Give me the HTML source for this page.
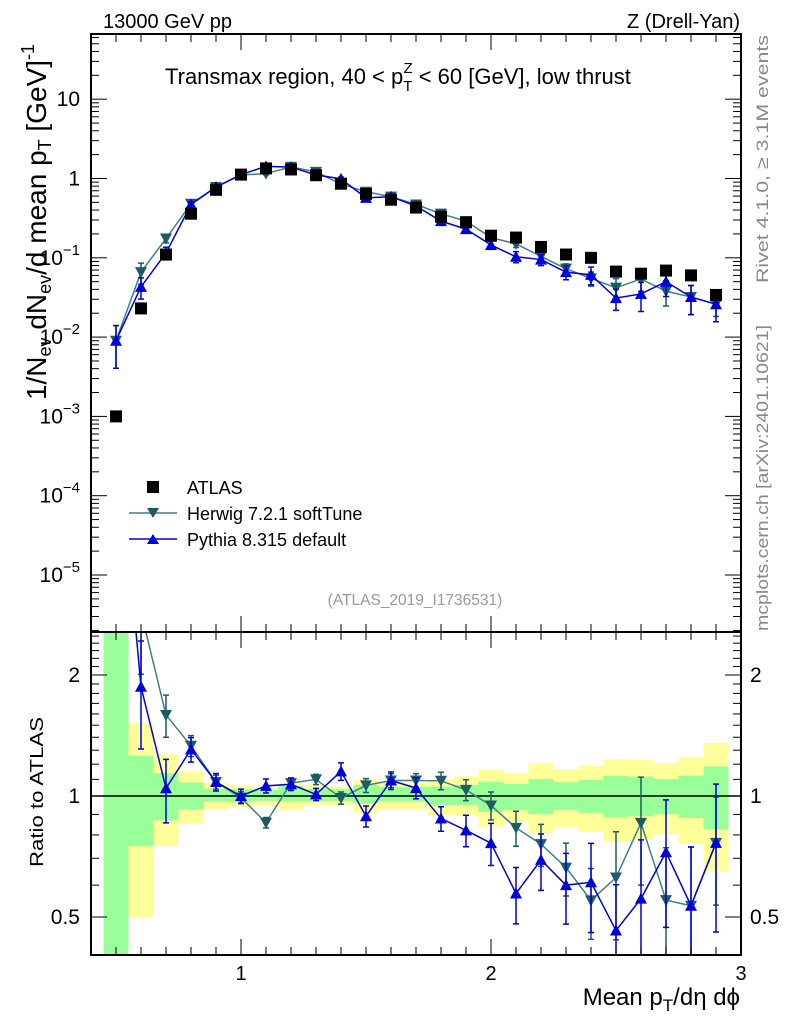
<!DOCTYPE html>
<html><head><meta charset="utf-8"><style>
body{margin:0;background:#fff}
svg{display:block;font-family:"Liberation Sans",Arial,sans-serif}
</style></head><body>
<svg id="c" width="786" height="1024" viewBox="0 0 786 1024" xmlns="http://www.w3.org/2000/svg">
<text x="103" y="28" font-size="20">13000 GeV pp</text>
<text x="740" y="28" font-size="20" text-anchor="end">Z (Drell-Yan)</text>
<text x="165" y="84" font-size="22">Transmax region, 40 &lt; p<tspan font-size="15" dy="7">T</tspan><tspan font-size="15" dx="-9" dy="-18">Z</tspan><tspan dy="11"> &lt; 60 [GeV], low thrust</tspan></text>
<text transform="translate(768,159) rotate(-90)" font-size="17" fill="#888" text-anchor="middle" textLength="248" lengthAdjust="spacingAndGlyphs">Rivet 4.1.0, ≥ 3.1M events</text>
<text transform="translate(768,478) rotate(-90)" font-size="17" fill="#888" text-anchor="middle" textLength="306" lengthAdjust="spacingAndGlyphs">mcplots.cern.ch [arXiv:2401.10621]</text>
<text transform="translate(46,222) rotate(-90)" font-size="28" text-anchor="middle">1/N<tspan font-size="18" dy="5">ev</tspan><tspan dy="-5"> dN</tspan><tspan font-size="18" dy="5">ev</tspan><tspan dy="-5">/d mean p</tspan><tspan font-size="18" dy="5">T</tspan><tspan dy="-5"> [GeV]</tspan><tspan font-size="18" dy="-12">-1</tspan></text>
<text transform="translate(43,792) rotate(-90)" font-size="18" text-anchor="middle" textLength="150" lengthAdjust="spacingAndGlyphs">Ratio to ATLAS</text>
<text x="740" y="1005" font-size="24" text-anchor="end">Mean p<tspan font-size="17" dy="6">T</tspan><tspan dy="-6">/dη dϕ</tspan></text>
<text x="415" y="605" font-size="15.5" fill="#999" text-anchor="middle">(ATLAS_2019_I1736531)</text>
<g id="bands"></g><g id="main"></g><g id="ratio"></g><g id="axes"></g>
<g>
<rect x="147" y="481" width="12" height="12" fill="#000"/>
<text x="187" y="494" font-size="18">ATLAS</text>
<line x1="129" y1="513" x2="177" y2="513" stroke="#3f7f85" stroke-width="1.5"/>
<path d="M147,508 L159,508 L153,518Z" fill="#1d5c63"/>
<text x="187" y="520" font-size="18">Herwig 7.2.1 softTune</text>
<line x1="129" y1="539" x2="177" y2="539" stroke="#0000dd" stroke-width="1.5"/>
<path d="M147,544 L159,544 L153,534Z" fill="#0000dd"/>
<text x="187" y="546" font-size="18">Pythia 8.315 default</text>
</g>
</svg>
<script>
const xs=[0.5,0.6,0.7,0.8,0.9,1.0,1.1,1.2,1.3,1.4,1.5,1.6,1.7,1.8,1.9,2.0,2.1,2.2,2.3,2.4,2.5,2.6,2.7,2.8,2.9];
const atlas=[0.001,0.023,0.11,0.36,0.72,1.12,1.34,1.3,1.1,0.86,0.64,0.54,0.43,0.33,0.28,0.19,0.18,0.137,0.11,0.1,0.067,0.063,0.069,0.06,0.034];
const herwig=[0.009,0.066,0.175,0.48,0.78,1.11,1.15,1.4,1.21,0.85,0.68,0.59,0.47,0.36,0.29,0.18,0.15,0.104,0.073,0.055,0.042,0.054,0.038,0.032,0.026];
const pythia=[0.009,0.043,0.115,0.47,0.78,1.12,1.42,1.39,1.11,0.99,0.57,0.59,0.45,0.29,0.23,0.145,0.103,0.095,0.066,0.061,0.031,0.035,0.05,0.032,0.026];
const herErr=[0.55,0.3,0.12,0.06,0.04,0.035,0.03,0.03,0.03,0.035,0.04,0.04,0.04,0.05,0.06,0.08,0.1,0.12,0.15,0.2,0.3,0.3,0.35,0.4,0.3];
const pyErr=[0.55,0.3,0.18,0.07,0.05,0.04,0.04,0.035,0.035,0.05,0.06,0.05,0.06,0.07,0.09,0.12,0.16,0.16,0.2,0.25,0.3,0.4,0.35,0.4,0.4];
const yelHi=[3,1.52,1.27,1.155,1.08,1.06,1.055,1.08,1.06,1.055,1.097,1.086,1.08,1.097,1.118,1.166,1.14,1.208,1.166,1.189,1.236,1.231,1.208,1.248,1.356];
const yelLo=[0.3,0.5,0.75,0.855,0.927,0.94,0.949,0.922,0.946,0.949,0.908,0.928,0.928,0.896,0.896,0.838,0.862,0.806,0.838,0.814,0.768,0.779,0.803,0.761,0.65];
const grnHi=[3,1.26,1.14,1.08,1.043,1.04,1.035,1.059,1.041,1.039,1.066,1.055,1.055,1.055,1.066,1.086,1.072,1.103,1.082,1.097,1.122,1.118,1.103,1.124,1.184];
const grnLo=[0.3,0.75,0.87,0.926,0.968,0.965,0.973,0.968,0.972,0.973,0.959,0.968,0.968,0.949,0.949,0.913,0.922,0.901,0.922,0.908,0.884,0.891,0.901,0.882,0.826];
const mainTickExp=["","","−1","−2","−3","−4","−5"];
const mainTickBase=["10","1","10","10","10","10","10"];
const mainTickVals=[1,0,-1,-2,-3,-4,-5];
const ratioTicks=["2","1","0.5"];
const ratioTickVals=[2,1,0.5];
const xTicks=["1","2","3"];
const xTickVals=[1,2,3];

const L=91,R=741,T=34,MB=632,RB=955;
const NS="http://www.w3.org/2000/svg";
const X=v=>L+(v-0.4)*(R-L)/2.6;
const Ym=v=>178.5-Math.log10(v)*79.3;
const Yr=v=>796-Math.log2(v)*121;
const clip=(y,a,b)=>Math.max(a,Math.min(b,y));
function mk(parent,tag,attrs){const e=document.createElementNS(NS,tag);for(const k in attrs)e.setAttribute(k,attrs[k]);document.getElementById(parent).appendChild(e);return e;}

xs.forEach((x,i)=>{
 const x0=X(x-0.05),x1=X(x+0.05);
 let a=clip(Yr(yelHi[i]),MB,RB),b=clip(Yr(yelLo[i]),MB,RB);
 let e=mk('bands','rect',{x:x0,y:a,width:x1-x0,height:b-a,fill:'#ffff99'});
 
 
 a=clip(Yr(grnHi[i]),MB,RB);b=clip(Yr(grnLo[i]),MB,RB);
 e=mk('bands','rect',{x:x0,y:a,width:x1-x0,height:b-a,fill:'#99ff99'});
 
 
});
let e=mk('bands','line',{x1:L,x2:R,y1:796,y2:796,stroke:'#000','stroke-width':1.5});



function series(g,vals,errs,col,lcol,down,name,yf){
 const pts=xs.map((x,i)=>[X(x),yf(vals[i])]);
 const gg=document.createElementNS(NS,'g');
 gg.setAttribute('clip-path',g==='main'?'url(#cm)':'url(#cr)');
 document.getElementById(g).appendChild(gg);
 const add=(tag,at)=>{const el=document.createElementNS(NS,tag);for(const k in at)el.setAttribute(k,at[k]);gg.appendChild(el);return el;};
 let p=add('polyline',{points:pts.map(p=>p.join(',')).join(' '),fill:'none',stroke:lcol,'stroke-width':1.5});
 
 
 xs.forEach((x,i)=>{
  const cx=X(x),v=vals[i],hi=yf(v*(1+errs[i])),lo=yf(Math.max(v*(1-errs[i]),1e-9));
  let eb=add('path',{d:`M${cx},${hi}V${lo}M${cx-3},${hi}h6M${cx-3},${lo}h6`,stroke:col,'stroke-width':1.5,fill:'none'});
  
  
  const cy=yf(v);
  let m=add('path',{d:down?`M${cx-6},${cy-5}L${cx+6},${cy-5}L${cx},${cy+6}Z`:`M${cx-6},${cy+5}L${cx+6},${cy+5}L${cx},${cy-6}Z`,fill:col});
  
  
 });
}
const defs=document.createElementNS(NS,'defs');
defs.innerHTML=`<clipPath id="cm"><rect x="${L}" y="${T}" width="${R-L}" height="${MB-T}"/></clipPath><clipPath id="cr"><rect x="${L}" y="${MB}" width="${R-L}" height="${RB-MB}"/></clipPath>`;
document.getElementById('c').prepend(defs);

series('main',herwig,herErr,'#1d5c63','#3f7f85',true,'herwig',Ym);
series('main',pythia,pyErr,'#0000dd','#0000dd',false,'pythia',Ym);
xs.forEach((x,i)=>{
 const r=mk('main','rect',{x:X(x)-6,y:Ym(atlas[i])-6,width:12,height:12,fill:'#000'});
 
 
});
series('ratio',herwig.map((v,i)=>v/atlas[i]),herErr,'#1d5c63','#3f7f85',true,'herwig-ratio',Yr);
series('ratio',pythia.map((v,i)=>v/atlas[i]),pyErr,'#0000dd','#0000dd',false,'pythia-ratio',Yr);

function ln(x1,y1,x2,y2,w){mk('axes','line',{x1,y1,x2,y2,stroke:'#000','stroke-width':w||1});}
let f=mk('axes','rect',{x:L,y:T,width:R-L,height:MB-T,fill:'none',stroke:'#000','stroke-width':2});


f=mk('axes','rect',{x:L,y:MB,width:R-L,height:RB-MB,fill:'none',stroke:'#000','stroke-width':2});


for(let k=4;k<=30;k++){const v=k/10,x=X(v),maj=k%10===0,len=maj?16:8;
 ln(x,T,x,T+len);ln(x,MB,x,MB-len);ln(x,MB,x,MB+len);ln(x,RB,x,RB-len);}
xTickVals.forEach((v,i)=>{const t=mk('axes','text',{x:X(v),y:980,'font-size':20,'text-anchor':'middle'});t.textContent=xTicks[i];
 
 });
for(let d=-6;d<=1;d++){for(let m=1;m<10;m++){const v=m*Math.pow(10,d),y=Ym(v);if(y<T||y>MB)continue;const len=m===1?16:8;ln(L,y,L+len,y);ln(R,y,R-len,y);}}
mainTickVals.forEach((d,i)=>{
 const y=Ym(Math.pow(10,d))+7;
 const t=mk('axes','text',{x:80,y:y,'font-size':21,'text-anchor':'end'});
 if(mainTickExp[i]){t.innerHTML=mainTickBase[i]+'<tspan font-size="15" dy="-10">'+mainTickExp[i]+'</tspan>';}
 else t.textContent=mainTickBase[i];
 
 });
[0.5,0.6,0.7,0.8,0.9,1,1.1,1.2,1.3,1.4,1.5,1.6,1.7,1.8,1.9,2,2.1,2.2,2.3,2.4,2.5].forEach(v=>{const y=Yr(v);if(y<MB||y>RB)return;const len=(v===0.5||v===1||v===2)?16:8;ln(L,y,L+len,y);ln(R,y,R-len,y);});
ratioTickVals.forEach((v,i)=>{let t=mk('axes','text',{x:80,y:Yr(v)+7,'font-size':21,'text-anchor':'end'});t.textContent=ratioTicks[i];
 
 
 t=mk('axes','text',{x:750,y:Yr(v)+7,'font-size':21});t.textContent=ratioTicks[i];
 
 });
</script>
</body></html>
